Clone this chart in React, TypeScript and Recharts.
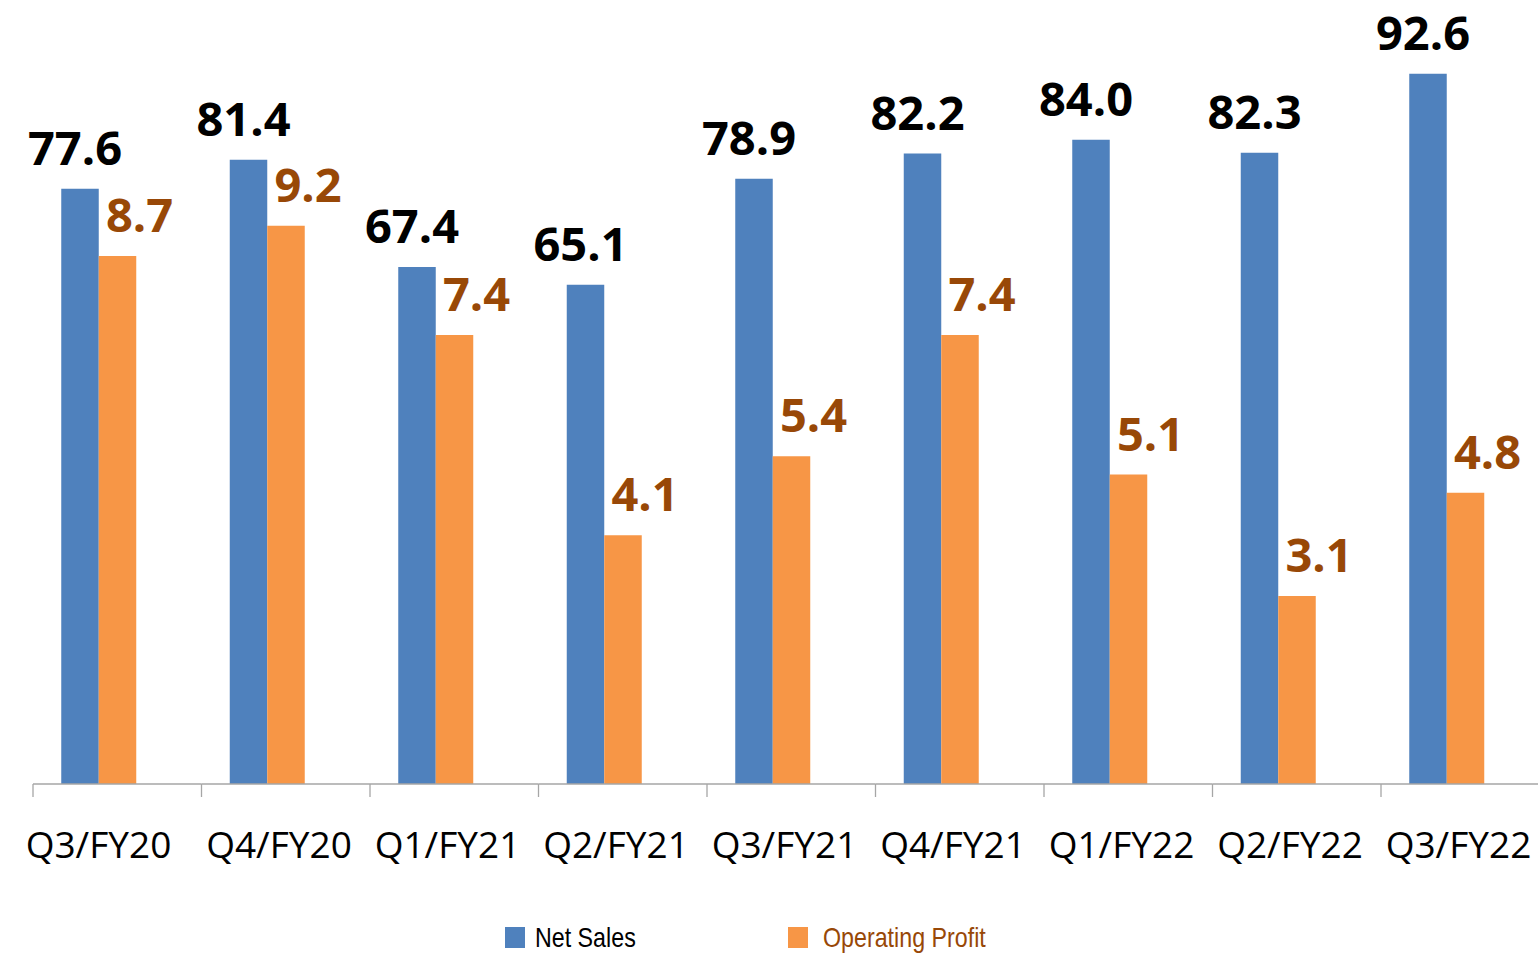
import { Bar, BarChart, LabelList, Legend, XAxis, YAxis } from "recharts";

const quarters = [
  "Q3/FY20",
  "Q4/FY20",
  "Q1/FY21",
  "Q2/FY21",
  "Q3/FY21",
  "Q4/FY21",
  "Q1/FY22",
  "Q2/FY22",
  "Q3/FY22",
];
const netSales = [77.6, 81.4, 67.4, 65.1, 78.9, 82.2, 84.0, 82.3, 92.6];
const operatingProfit = [8.7, 9.2, 7.4, 4.1, 5.4, 7.4, 5.1, 3.1, 4.8];

const data = quarters.map((quarter, i) => ({
  quarter,
  sales: netSales[i],
  profit: operatingProfit[i],
}));

const BLUE = "#4F81BD";
const ORANGE = "#F79646";
const BROWN = "#984807";
const AXIS = "#A6A6A6";
const STEP = 168.5;

function QuarterTick(props: any) {
  const { x, y, payload, index } = props;
  const left = x - 65.5;
  return (
    <g>
      <line x1={left} x2={left + STEP} y1={y} y2={y} stroke={AXIS} strokeWidth={1.3} />
      <line x1={left} x2={left} y1={y} y2={y + 13} stroke={AXIS} strokeWidth={1.3} />
      <text
        x={x + (index === 0 ? 0 : 12)}
        y={y + 74}
        textAnchor="middle"
        fill="#000"
        fontFamily="'Open Sans', sans-serif"
        fontSize={37}
      >
        {payload.value}
      </text>
    </g>
  );
}

function valueLabel(color: string, dx: number) {
  return (props: any) => {
    const { x, y, width, value } = props;
    return (
      <text
        x={Number(x) + Number(width) / 2 + dx}
        y={Number(y) - 24}
        textAnchor="middle"
        fill={color}
        fontFamily="'Open Sans', sans-serif"
        fontWeight={700}
        fontSize={47}
      >
        {Number(value).toFixed(1)}
      </text>
    );
  };
}

function ChartLegend() {
  const text = {
    position: "absolute" as const,
    top: 9,
    fontFamily: "'Liberation Sans', Arial, sans-serif",
    fontSize: 28,
    lineHeight: "28px",
    whiteSpace: "nowrap" as const,
    transform: "scaleX(0.83)",
    transformOrigin: "left center",
  };
  return (
    <div style={{ position: "relative", width: 1538, height: 40 }}>
      <span style={{ position: "absolute", left: 505, top: 12, width: 20, height: 21, background: BLUE }} />
      <span style={{ ...text, left: 535, color: "#000" }}>Net Sales</span>
      <span style={{ position: "absolute", left: 788, top: 12, width: 20, height: 21, background: ORANGE }} />
      <span style={{ ...text, left: 823, color: BROWN }}>Operating Profit</span>
    </div>
  );
}

export default function App() {
  return (
    <div
      style={{
        position: "absolute",
        left: 0,
        top: 0,
        width: 1538,
        height: 955,
        overflow: "hidden",
        background: "#fff",
      }}
    >
      <BarChart
        width={1538}
        height={955}
        data={data}
        margin={{ top: 17, right: 7.25, left: 14.25, bottom: 31 }}
        barGap={0}
        barSize={37.5}
      >
        <XAxis
          dataKey="quarter"
          axisLine={false}
          tickLine={false}
          tickSize={0}
          tickMargin={0}
          height={100}
          interval={0}
          tick={<QuarterTick />}
        />
        <YAxis yAxisId="sales" domain={[0, 100]} hide />
        <YAxis yAxisId="profit" orientation="right" domain={[0, 12.64]} hide />
        <Legend
          verticalAlign="bottom"
          content={<ChartLegend />}
          wrapperStyle={{ left: 0, top: 915, bottom: "auto", width: 1538, height: 40 }}
        />
        <Bar dataKey="sales" name="Net Sales" yAxisId="sales" fill={BLUE} isAnimationActive={false}>
          <LabelList dataKey="sales" content={valueLabel("#000", -5)} />
        </Bar>
        <Bar
          dataKey="profit"
          name="Operating Profit"
          yAxisId="profit"
          fill={ORANGE}
          isAnimationActive={false}
        >
          <LabelList dataKey="profit" content={valueLabel(BROWN, 22)} />
        </Bar>
      </BarChart>
    </div>
  );
}
